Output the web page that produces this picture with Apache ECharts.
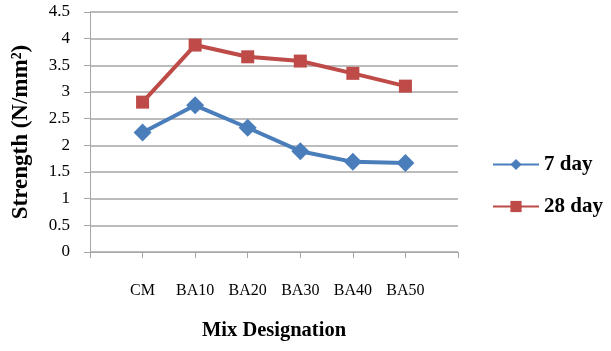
<!DOCTYPE html>
<html>
<head>
<meta charset="utf-8">
<script src="https://cdn.jsdelivr.net/npm/echarts@6/dist/echarts.min.js"></script>
<style>
  html, body { margin: 0; padding: 0; background: #fff; }
  #chart { width: 611px; height: 351px; }
</style>
</head>
<body>
<div id="chart"></div>
<script>
// Mix designations; blank slots pad the axis on both ends
const categories = ['', 'CM', 'BA10', 'BA20', 'BA30', 'BA40', 'BA50', ''];
const day7 = [null, 2.24, 2.75, 2.33, 1.89, 1.69, 1.67, null];
const day28 = [null, 2.81, 3.88, 3.66, 3.58, 3.35, 3.11, null];
const yTicks = { min: 0, max: 4.5, interval: 0.5 };

const serif = '"Liberation Serif", "DejaVu Serif", serif';
const gridColor = '#a6a6a6';

const chart = echarts.init(document.getElementById('chart'));
chart.setOption({
  animation: false,
  grid: { left: 90, right: 153, top: 12, bottom: 99 },
  legend: {
    orient: 'vertical',
    left: 487,
    top: 149,
    itemGap: 21,
    itemWidth: 46,
    itemHeight: 14,
    textStyle: { fontFamily: serif, fontWeight: 'bold', fontSize: 21, color: '#000' },
    data: ['7 day', '28 day']
  },
  xAxis: {
    type: 'category',
    data: categories,
    boundaryGap: false,
    name: 'Mix Designation',
    nameLocation: 'middle',
    nameGap: 68,
    nameTextStyle: { fontFamily: serif, fontWeight: 'bold', fontSize: 20.5, color: '#000' },
    axisLine: { lineStyle: { color: gridColor, width: 1 } },
    axisTick: { length: 6, lineStyle: { color: gridColor } },
    axisLabel: { fontFamily: serif, fontSize: 16, color: '#000', margin: 31, interval: 0 },
    splitLine: { show: false }
  },
  yAxis: {
    type: 'value',
    min: yTicks.min,
    max: yTicks.max,
    interval: yTicks.interval,
    name: 'Strength (N/mm²)',
    nameLocation: 'middle',
    nameGap: 57,
    nameTextStyle: { fontFamily: serif, fontWeight: 'bold', fontSize: 23, color: '#000' },
    axisLine: { show: true, lineStyle: { color: gridColor, width: 1 } },
    axisTick: { show: true, length: 6, lineStyle: { color: gridColor } },
    axisLabel: { fontFamily: serif, fontSize: 17, color: '#000', margin: 20 },
    splitLine: { lineStyle: { color: gridColor, width: 1.5 } }
  },
  series: [
    {
      name: '7 day',
      type: 'line',
      data: day7,
      symbol: 'diamond',
      symbolSize: 18,
      lineStyle: { color: '#4a7ebb', width: 4 },
      itemStyle: { color: '#4a7ebb' }
    },
    {
      name: '28 day',
      type: 'line',
      data: day28,
      symbol: 'rect',
      symbolSize: 13,
      lineStyle: { color: '#be4b48', width: 4 },
      itemStyle: { color: '#be4b48' }
    }
  ]
});
</script>
</body>
</html>
